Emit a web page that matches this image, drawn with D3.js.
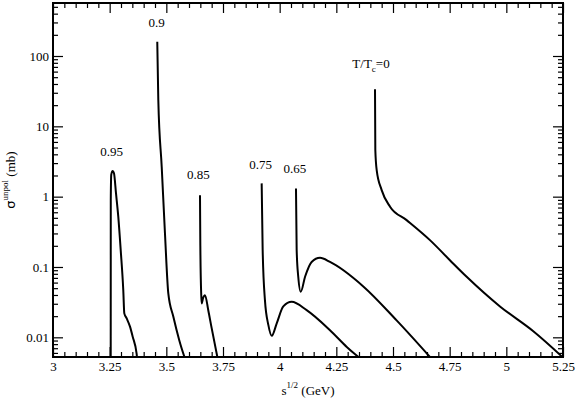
<html lang="en">
<head>
<meta charset="UTF-8">
<title>sigma unpol</title>
<style>
  body { margin: 0; background: #fff; }
</style>
</head>
<body>
<script src="https://d3js.org/d3.v7.min.js"></script>
<div id="my_dataviz"></div>
<script>

// x ticks (GeV) and y ticks (mb)
var xTicks = [3, 3.25, 3.5, 3.75, 4, 4.25, 4.5, 4.75, 5, 5.25];
var xTickLabels = ["3", "3.25", "3.5", "3.75", "4", "4.25", "4.5", "4.75", "5", "5.25"];
var yTicks = [0.01, 0.1, 1, 10, 100];
var yTickLabels = ["0.01", "0.1", "1", "10", "100"];

// curves, [sqrt(s), sigma]
var t095 = [[3.2546, 0.004], [3.2549, 0.9], [3.2570, 2.05], [3.2634, 2.31], [3.2691, 2.15], [3.278, 1.11],
  [3.288, 0.519], [3.2987, 0.174], [3.310, 0.0471], [3.3146, 0.0219], [3.325, 0.0186], [3.3397, 0.0142],
  [3.3516, 0.0102], [3.369, 0.0058], [3.3725, 0.0043]];
var t090 = [[3.460, 160], [3.4646, 23.7], [3.4796, 2.66], [3.494, 0.30], [3.5087, 0.0421],
  [3.531, 0.0196], [3.557, 0.0091], [3.590, 0.0042]];
var t085 = [[3.6485, 1.05], [3.650, 0.2], [3.6540, 0.04], [3.656, 0.0303], [3.662, 0.036], [3.6706, 0.0398],
  [3.685, 0.0243], [3.70, 0.0135], [3.731, 0.0042]];
var t075 = [[3.9206, 1.545], [3.925, 0.174], [3.935, 0.0338], [3.950, 0.015], [3.965, 0.0105], [3.987, 0.0158],
  [4.016, 0.0275], [4.053, 0.032], [4.119, 0.0243], [4.222, 0.0126], [4.296, 0.0073], [4.385, 0.0042]];
var t065 = [[4.072, 1.31], [4.075, 0.174], [4.082, 0.0726], [4.093, 0.0444], [4.112, 0.0726], [4.141, 0.118],
  [4.178, 0.135], [4.222, 0.118], [4.369, 0.0529], [4.516, 0.0174], [4.69, 0.0042]];
var t000 = [[4.4206, 33.6], [4.422, 4.6], [4.428, 2.39], [4.45, 1.24], [4.487, 0.719], [4.56, 0.464],
  [4.663, 0.241], [4.751, 0.125], [4.825, 0.0726], [4.972, 0.0275], [5.119, 0.0122], [5.28, 0.0042]];

var FONT = "Liberation Serif";

var margin = {top: 3, right: 14, bottom: 42, left: 53},
    width = 563 - 53,
    height = 357 - 3;

var svg = d3.select("#my_dataviz")
  .append("svg")
    .attr("width", 577)
    .attr("height", 399)
  .append("g")
    .attr("transform", "translate(" + margin.left + "," + margin.top + ")");

var x = d3.scaleLinear().domain([3, 5.25]).range([0, width]);
var y = d3.scaleLog().domain([0.00525, 567]).range([height, 0]);

// minor ticks
var xMinor = d3.range(3, 5.2501, 0.05).filter(function(v) { return Math.abs(v * 4 - Math.round(v * 4)) > 1e-6; });
var yMinor = [];
[-3, -2, -1, 0, 1, 2].forEach(function(k) {
  for (var m = 2; m <= 9; m++) {
    var v = m * Math.pow(10, k);
    if (v > 0.00525 && v < 567) yMinor.push(v);
  }
});

function styleAxis(g) {
  g.attr("font-family", null).attr("font-size", null);
  g.select(".domain").remove();
  g.selectAll("line").attr("stroke", "#000").attr("stroke-width", 1.2);
  g.selectAll("text").attr("fill", "#000")
    .style("font-family", FONT).style("font-size", "13px");
}

// bottom
svg.append("g").attr("transform", "translate(0," + height + ")")
  .call(d3.axisBottom(x).tickValues(xTicks).tickSize(-10).tickPadding(5)
    .tickFormat(function(d, i) { return xTickLabels[i]; }))
  .call(styleAxis);
svg.append("g").attr("transform", "translate(0," + height + ")")
  .call(d3.axisBottom(x).tickValues(xMinor).tickSize(-5).tickFormat(""))
  .call(styleAxis);
// top
svg.append("g")
  .call(d3.axisTop(x).tickValues(xTicks).tickSize(-10).tickFormat(""))
  .call(styleAxis);
svg.append("g")
  .call(d3.axisTop(x).tickValues(xMinor).tickSize(-5).tickFormat(""))
  .call(styleAxis);
// left
svg.append("g")
  .call(d3.axisLeft(y).tickValues(yTicks).tickSize(-10).tickPadding(4)
    .tickFormat(function(d, i) { return yTickLabels[i]; }))
  .call(styleAxis);
svg.append("g")
  .call(d3.axisLeft(y).tickValues(yMinor).tickSize(-5).tickFormat(""))
  .call(styleAxis);
// right
svg.append("g").attr("transform", "translate(" + width + ",0)")
  .call(d3.axisRight(y).tickValues(yTicks).tickSize(-10).tickFormat(""))
  .call(styleAxis);
svg.append("g").attr("transform", "translate(" + width + ",0)")
  .call(d3.axisRight(y).tickValues(yMinor).tickSize(-5).tickFormat(""))
  .call(styleAxis);

// frame
svg.append("rect")
  .attr("width", width).attr("height", height)
  .attr("fill", "none").attr("stroke", "#000").attr("stroke-width", 2);

// clip
svg.append("clipPath").attr("id", "clip")
  .append("rect").attr("width", width).attr("height", height);

var line = d3.line()
  .x(function(d) { return x(d[0]); })
  .y(function(d) { return y(d[1]); })
  .curve(d3.curveMonotoneX);

[t095, t090, t085, t075, t065, t000].forEach(function(s) {
  svg.append("path")
    .datum(s)
    .attr("clip-path", "url(#clip)")
    .attr("fill", "none")
    .attr("stroke", "#000")
    .attr("stroke-width", 2)
    .attr("d", line);
});

function txt(sel) {
  return sel.attr("fill", "#000").style("font-family", FONT).style("font-size", "13px");
}

// curve labels
var labels = [
  {t: "0.95", x: 3.259, y: 3.8},
  {t: "0.9", x: 3.4575, y: 258},
  {t: "0.85", x: 3.641, y: 1.81},
  {t: "0.75", x: 3.916, y: 2.5},
  {t: "0.65", x: 4.0676, y: 2.2}
];
labels.forEach(function(l) {
  svg.append("text")
    .attr("x", x(l.x)).attr("y", y(l.y))
    .attr("text-anchor", "middle")
    .call(txt)
    .text(l.t);
});
var tc = svg.append("text")
  .attr("x", x(4.403)).attr("y", y(67))
  .attr("text-anchor", "middle")
  .call(txt);
tc.append("tspan").text("T/T");
tc.append("tspan").attr("dy", 4).style("font-size", "9px").text("c");
tc.append("tspan").attr("dy", -4).text("=0");

// axis titles
var xl = svg.append("text")
  .attr("x", width / 2).attr("y", height + 38)
  .attr("text-anchor", "middle")
  .call(txt);
xl.append("tspan").text("s");
xl.append("tspan").attr("dy", -7).style("font-size", "9px").text("1/2");
xl.append("tspan").attr("dy", 7).text(" (GeV)");

var yl = svg.append("text")
  .attr("transform", "translate(" + (-38) + "," + (height / 2) + ")rotate(-90)")
  .attr("text-anchor", "middle")
  .call(txt);
yl.append("tspan").style("font-family", "DejaVu Sans").text("σ");
yl.append("tspan").attr("dy", -7).style("font-size", "9px").text("unpol");
yl.append("tspan").attr("dy", 7).text(" (mb)");

</script>
</body>
</html>
